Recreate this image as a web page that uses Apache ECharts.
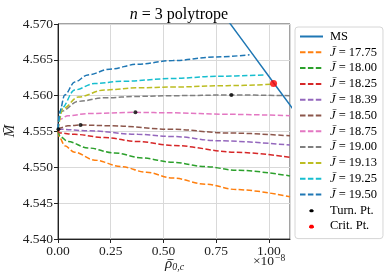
<!DOCTYPE html>
<html><head><meta charset="utf-8">
<script src="https://cdn.jsdelivr.net/npm/echarts@6/dist/echarts.min.js"></script>
<style>html,body{margin:0;padding:0;background:#fff}#c{width:390px;height:280px}</style>
</head><body><div id="c"></div>
<script>
// x values in units of 1e-8
var msX = [0.78, 0.90, 1.022, 1.12];
var msM = [4.5715, 4.5667, 4.5618, 4.5579];

var j1775X = [0, 0.008, 0.032, 0.079, 0.174, 0.30, 0.42, 0.545, 0.70, 0.845, 1.1];
var j1775M = [4.5550, 4.5541, 4.5530, 4.5521, 4.5510, 4.5501, 4.5493, 4.5485, 4.54765, 4.5469, 4.5459];
var j1800X = [0, 0.01, 0.047, 0.142, 0.269, 0.40, 0.545, 0.70, 0.845, 1.1];
var j1800M = [4.5551, 4.5543, 4.5536, 4.5527, 4.5520, 4.5513, 4.5507, 4.5501, 4.5496, 4.5488];
var j1825X = [0, 0.008, 0.079, 0.221, 0.379, 0.545, 0.845, 1.1];
var j1825M = [4.5552, 4.5548, 4.5546, 4.55415, 4.5536, 4.55305, 4.5521, 4.5514];
var j1839X = [0, 0.01, 0.142, 0.379, 0.545, 0.766, 1.1];
var j1839M = [4.5553, 4.55532, 4.5551, 4.5546, 4.5543, 4.5537, 4.5531];
var j1850X = [0, 0.01, 0.047, 0.108, 0.253, 0.545, 0.8, 1.1];
var j1850M = [4.5553, 4.5555, 4.5558, 4.5559, 4.5558, 4.5553, 4.5548, 4.5544];
var j1875X = [0, 0.008, 0.047, 0.142, 0.364, 0.545, 0.8, 1.1];
var j1875M = [4.5553, 4.5567, 4.5572, 4.5575, 4.55767, 4.5576, 4.5574, 4.5572];
var j1900X = [0, 0.016, 0.095, 0.221, 0.379, 0.545, 0.822, 1.1];
var j1900M = [4.5553, 4.5578, 4.5592, 4.5597, 4.5599, 4.5600, 4.5601, 4.5600];
var j1913X = [0, 0.024, 0.095, 0.221, 0.379, 0.545, 0.8, 1.022];
var j1913M = [4.5553, 4.5582, 4.5598, 4.5608, 4.5611, 4.5612, 4.5614, 4.5616];
var j1925X = [0, 0.016, 0.079, 0.174, 0.30, 0.545, 0.75, 0.985];
var j1925M = [4.5553, 4.5582, 4.5608, 4.5617, 4.5620, 4.5624, 4.5627, 4.5629];
var j1950X = [0, 0.003, 0.008, 0.032, 0.079, 0.142, 0.245, 0.379, 0.545, 0.75, 0.908];
var j1950M = [4.5553, 4.5567, 4.5578, 4.5601, 4.5619, 4.5629, 4.5637, 4.5644, 4.5649, 4.5654, 4.5657];

var turnX = [0.002, 0.107, 0.367, 0.822];
var turnM = [4.5553, 4.5559, 4.5577, 4.5601];
var critX = [1.022];
var critM = [4.5617];

var jLabels = ['17.75','18.00','18.25','18.39','18.50','18.75','19.00','19.13','19.25','19.50'];
var jColors = ['#ff7f0e','#2ca02c','#d62728','#9467bd','#8c564b','#e377c2','#7f7f7f','#bcbd22','#17becf','#1f77b4'];
var jX = [j1775X,j1800X,j1825X,j1839X,j1850X,j1875X,j1900X,j1913X,j1925X,j1950X];
var jM = [j1775M,j1800M,j1825M,j1839M,j1850M,j1875M,j1900M,j1913M,j1925M,j1950M];

function zip(a,b){return a.map(function(v,i){return [v,b[i]];});}
var FONT = 'Liberation Serif';

var series = [{
  name: 'MS', type: 'line', data: zip(msX, msM), symbol: 'none', clip: true,
  lineStyle: {color: '#1f77b4', width: 1.5}, itemStyle: {color: '#1f77b4'}, z: 3
}];
jLabels.forEach(function(l, i){
  series.push({
    name: 'J' + l, type: 'line', data: zip(jX[i], jM[i]), symbol: 'none',
    smooth: 0.35, smoothMonotone: 'x', clip: true,
    lineStyle: {color: jColors[i], width: 1.5, type: [5.5, 2.4]},
    itemStyle: {color: jColors[i]}, z: 2
  });
});
series.push({name: 'Turn. Pt.', type: 'scatter', data: zip(turnX, turnM), symbolSize: 4,
  itemStyle: {color: '#000'}, z: 5});
series.push({name: 'Crit. Pt.', type: 'scatter', data: zip(critX, critM), symbolSize: 7,
  itemStyle: {color: '#ff0000'}, z: 6});

var smallDot = 'path://M0,0M24,10M11,4L13,4L14,5L14,6L13,7L11,7L10,6L10,5Z';
var bigDot = 'path://M0,0M24,10M10.8,3.5L13.2,3.5L14.5,4.8L14.5,6.2L13.2,7.5L10.8,7.5L9.5,6.2L9.5,4.8Z';

var chart = echarts.init(document.getElementById('c'), null, {renderer: 'canvas'});
chart.setOption({
  animation: false,
  backgroundColor: '#fff',
  title: {
    text: '{i|n} = 3 polytrope', left: 174, top: 2, textAlign: 'center',
    textStyle: {fontFamily: FONT, fontSize: 16, fontWeight: 'normal', color: '#000',
      rich: {i: {fontFamily: FONT, fontStyle: 'italic', fontSize: 16}}}
  },
  grid: {left: 58, right: 100, top: 24, bottom: 41, show: true, borderColor: '#444', borderWidth: 1},
  legend: {
    orient: 'vertical', left: 295, top: 27, width: 92,
    padding: [3, 6, 6, 4],
    itemWidth: 23, itemHeight: 10, itemGap: 2.8,
    borderColor: '#d6d6d6', borderWidth: 1, borderRadius: 3,
    itemStyle: {opacity: 0},
    data: ['MS'].concat(jLabels.map(function(l){return 'J'+l;})).concat([
      {name: 'Turn. Pt.', icon: smallDot, itemStyle: {color: '#000', opacity: 1}},
      {name: 'Crit. Pt.', icon: bigDot, itemStyle: {color: '#f00', opacity: 1}}]),
    formatter: function(n){
      if (n.charAt(0) === 'J') return '{i|J\u0304} = ' + n.slice(1);
      return n;
    },
    textStyle: {fontFamily: FONT, fontSize: 12.5, lineHeight: 13, color: '#000', padding: [0,0,0,2],
      rich: {i: {fontFamily: FONT, fontStyle: 'italic', fontSize: 12.5, lineHeight: 13}}}
  },
  xAxis: {
    type: 'value', min: 0, max: 1.1, interval: 0.25,
    axisLine: {show: true, onZero: false, lineStyle: {color: '#222', width: 1}},
    axisTick: {show: true, length: 4, lineStyle: {color: '#222'}},
    axisLabel: {showMaxLabel: false, fontFamily: FONT, fontSize: 13.5, color: '#222', margin: 5,
      formatter: function(v){return v.toFixed(2);}},
    splitLine: {show: true, lineStyle: {color: '#d9d9d9', width: 1}}
  },
  yAxis: {
    type: 'value', min: 4.540, max: 4.570, interval: 0.005,
    axisLine: {show: true, onZero: false, lineStyle: {color: '#222', width: 1}},
    axisTick: {show: true, length: 4, lineStyle: {color: '#222'}},
    axisLabel: {fontFamily: FONT, fontSize: 13.5, color: '#222', margin: 5,
      formatter: function(v){return v.toFixed(3);}},
    splitLine: {show: true, lineStyle: {color: '#d9d9d9', width: 1}}
  },
  graphic: [
    {type: 'text', left: 165, top: 257, style: {
      text: '{a|\u03c1}{s|0,c}', fill: '#222',
      rich: {a: {fontFamily: FONT, fontStyle: 'italic', fontSize: 15, fill: '#222'},
             s: {fontFamily: FONT, fontStyle: 'italic', fontSize: 10, fill: '#222', verticalAlign: 'bottom', padding: [6,0,0,0]}}}},
    {type: 'line', shape: {x1: 167.5, y1: 259.5, x2: 173.5, y2: 259.5}, style: {stroke: '#222', lineWidth: 0.8}},
    {type: 'text', left: 253, top: 253, style: {
      text: '\u00d710{s|\u22128}', fill: '#222', fontFamily: FONT, fontSize: 13.5,
      rich: {s: {fontFamily: FONT, fontSize: 9.5, fill: '#222', verticalAlign: 'top', padding: [0,0,6,1]}}}},
    {type: 'text', x: 3, y: 131, rotation: Math.PI/2, style: {
      text: 'M\u0304', fill: '#222', fontFamily: FONT, fontStyle: 'italic', fontSize: 15,
      align: 'center', verticalAlign: 'top'}}
  ],
  series: series
});
</script></body></html>
